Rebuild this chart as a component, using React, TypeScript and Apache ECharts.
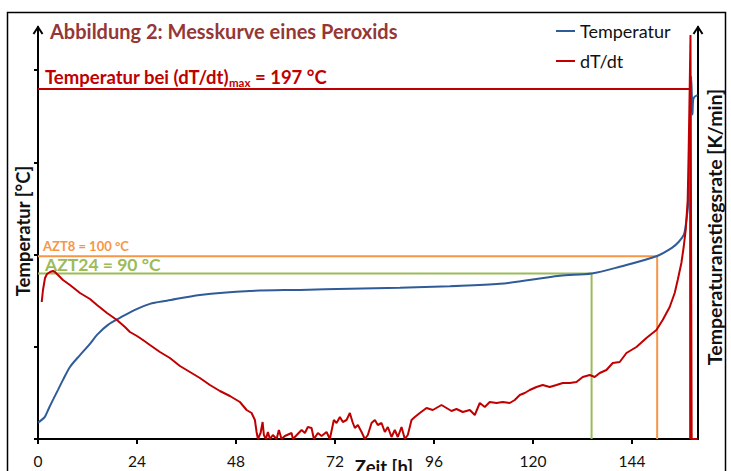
import React, { useEffect, useRef } from "react";
import * as echarts from "echarts";

// ---------- text ----------
const TITLE = "Abbildung 2: Messkurve eines Peroxids";
const SERIES_TEMP = "Temperatur";
const SERIES_RATE = "dT/dt";
const X_NAME = "Zeit [h]";
const Y_LEFT_NAME = "Temperatur [°C]";
const Y_RIGHT_NAME = "Temperaturanstiegsrate [K/min]";

// ---------- axes ----------
const xTicks = [0, 24, 48, 72, 96, 120, 144];
const tempTicks = [-6, 47.5, 101, 154.5, 208];

// ---------- temperature curve (h, °C) ----------
const tempTime = [
  0, 0.73, 1.7, 2.67, 3.63, 4.85, 6.06, 7.75, 10.18, 12.6, 14.3, 16.96, 19.87,
  23.5, 27.14, 31.26, 39.25, 51.37, 63.48, 75.6, 87.72, 99.84, 111.95, 126.49,
  134.2, 141.02, 149.9, 153.67, 155.36, 156.57, 157.05, 157.6, 157.86, 158.1,
  158.35, 158.54, 158.66, 158.83, 159.2, 159.9,
];
const tempValues = [
  3.5, 4.8, 7.0, 12.0, 16.7, 22.5, 28.3, 35.8, 42.7, 49.2, 54.4, 60.2, 64.3,
  68.9, 72.4, 74.2, 77.6, 79.9, 80.5, 81.1, 81.7, 82.6, 84.0, 88.7, 90.0, 93.9,
  100.0, 104.9, 108.4, 112.5, 118.3, 129.9, 150.2, 179.3, 204.2, 190.9, 182.2,
  190.9, 192.6, 193.5,
];

// ---------- dT/dt curve (h, K/min) ----------
const rateTime = [
  0.9, 1.21, 1.7, 2.18, 2.91, 3.63, 4.12, 4.85, 6.06, 7.75, 10.18, 12.6, 14.3,
  16.72, 19.14, 21.08, 22.29, 23.99, 25.44, 27.14, 29.56, 31.98, 34.41, 36.83,
  39.25, 41.68, 44.1, 46.52, 48.95, 50.57, 51.78, 52.58, 52.99, 53.31, 53.96,
  54.45, 54.76, 55.25, 55.73, 56.22, 56.94, 57.84, 58.4, 59.05, 59.85, 61.47,
  61.79, 63.9, 64.7, 65.42, 66.32, 66.88, 67.85, 68.74, 69.95, 70.75, 71.72,
  72.38, 73.18, 73.9, 74.8, 75.6, 76.25, 76.81, 77.54, 78.44, 79.23, 79.96,
  80.86, 81.66, 82.38, 83.28, 84.08, 84.81, 85.7, 86.5, 87.23, 88.13, 88.93,
  89.65, 90.55, 91.35, 92.56, 94.19, 95.71, 97.82, 99.03, 100.24, 101.45,
  102.98, 104.68, 105.89, 107.1, 108.31, 109.52, 111.15, 112.67, 114.37,
  115.58, 116.79, 118.0, 119.21, 120.84, 122.36, 124.06, 125.68, 127.21,
  128.91, 130.53, 132.06, 133.75, 134.96, 136.18, 137.8, 139.33, 141.02,
  142.65, 145.07, 147.49, 149.92, 151.44, 153.14, 154.35, 155.08, 155.97,
  156.53, 157.02, 157.5, 157.74, 157.98, 158.18, 158.35, 158.47, 159.9,
];
const rateValues = [
  1.37, 1.49, 1.61, 1.65, 1.67, 1.68, 1.67, 1.64, 1.59, 1.54, 1.46, 1.4, 1.34,
  1.26, 1.19, 1.12, 1.07, 1.03, 0.99, 0.94, 0.87, 0.81, 0.73, 0.67, 0.61, 0.54,
  0.48, 0.43, 0.37, 0.29, 0.26, 0.19, 0.07, 0.0, 0.06, 0.17, 0.04, 0.0, 0.07,
  0.0, 0.04, 0.0, 0.09, 0.0, 0.03, 0.06, 0.0, 0.09, 0.06, 0.12, 0.11, 0.0,
  0.06, 0.03, 0.07, 0.0, 0.19, 0.16, 0.22, 0.17, 0.19, 0.26, 0.17, 0.11, 0.14,
  0.07, 0.0, 0.04, 0.16, 0.19, 0.14, 0.16, 0.07, 0.12, 0.02, 0.09, 0.02, 0.12,
  0.0, 0.04, 0.19, 0.22, 0.26, 0.31, 0.29, 0.34, 0.31, 0.28, 0.3, 0.27, 0.29,
  0.24, 0.36, 0.32, 0.37, 0.36, 0.37, 0.36, 0.39, 0.44, 0.46, 0.49, 0.52,
  0.54, 0.52, 0.54, 0.56, 0.56, 0.57, 0.62, 0.64, 0.62, 0.66, 0.69, 0.76,
  0.77, 0.86, 0.92, 1.01, 1.09, 1.19, 1.32, 1.46, 1.59, 1.76, 1.92, 2.09,
  2.39, 2.89, 3.49, 4.04, 1.64, 0.0, 0.0,
];

// ---------- marker values ----------
const aztLabels = ["AZT24 = 90 °C", "AZT8 = 100 °C"];
const azt24 = { time: 134.2, temp: 90 };
const azt8 = { time: 150.1, temp: 100 };
const peak = { time: 158.1, temp: 197 };
const TEMP_MIN = -6;
const TEMP_MAX = 233;
const RATE_MAX = 4.12;
const X_MAX = 160;

const FONT = "Lato";
const BLUE = "#2F5B98";
const RED = "#C00000";
const GREEN = "#9BBB59";
const ORANGE = "#F79646";
const DARKRED = "#953735";

const zip = (a: number[], b: number[]) => a.map((v, i) => [v, b[i]]);
const marker = (m: { time: number; temp: number }) => [
  [0, m.temp],
  [m.time, m.temp],
  [m.time, TEMP_MIN],
];

export default function App() {
  const ref = useRef<HTMLDivElement>(null);

  useEffect(() => {
    if (!ref.current) return;
    const chart = echarts.init(ref.current, null, { renderer: "svg" });

    const markerSeries = (name: string, m: any, color: string) => ({
      name,
      type: "line",
      yAxisIndex: 0,
      data: marker(m),
      symbol: "none",
      silent: true,
      lineStyle: { color, width: 2 },
      z: 3,
    });

    chart.setOption({
      animation: false,
      backgroundColor: "#ffffff",
      textStyle: { fontFamily: FONT },
      grid: { left: 38, right: 33, top: 27, bottom: 32, containLabel: false },
      legend: {
        data: [
          { name: SERIES_TEMP, icon: "rect" },
          { name: SERIES_RATE, icon: "rect" },
        ],
        orient: "vertical",
        left: 551,
        top: 17,
        itemWidth: 19,
        itemHeight: 2,
        itemGap: 12,
        textStyle: { fontFamily: FONT, fontSize: 18, color: "#111" },
      },
      xAxis: {
        type: "value",
        min: 0,
        max: X_MAX,
        interval: 24,
        axisLine: { show: true, onZero: false, lineStyle: { color: "#000", width: 2 } },
        axisTick: {
          show: true,
          length: 5,
          customValues: xTicks,
          lineStyle: { color: "#000", width: 2 },
        },
        axisLabel: {
          customValues: xTicks,
          margin: 14,
          fontSize: 15.5,
          fontFamily: FONT,
          color: "#111",
        },
        splitLine: { show: false },
      },
      yAxis: [
        {
          type: "value",
          min: TEMP_MIN,
          max: TEMP_MAX,
          position: "left",
          axisLine: { show: true, onZero: false, lineStyle: { color: "#000", width: 2 } },
          axisTick: {
            show: true,
            length: 4,
            customValues: tempTicks,
            lineStyle: { color: "#000", width: 2 },
          },
          axisLabel: { show: false },
          splitLine: { show: false },
        },
        {
          type: "value",
          min: 0,
          max: RATE_MAX,
          position: "right",
          axisLine: { show: true, onZero: false, lineStyle: { color: "#000", width: 2 } },
          axisTick: { show: false },
          axisLabel: { show: false },
          splitLine: { show: false },
        },
      ],
      series: [
        markerSeries("azt24", azt24, GREEN),
        markerSeries("azt8", azt8, ORANGE),
        markerSeries("peak", peak, RED),
        {
          name: SERIES_TEMP,
          type: "line",
          yAxisIndex: 0,
          data: zip(tempTime, tempValues),
          symbol: "none",
          smooth: 0.3,
          lineStyle: { color: BLUE, width: 2 },
          itemStyle: { color: BLUE },
          z: 4,
        },
        {
          name: SERIES_RATE,
          type: "line",
          yAxisIndex: 1,
          data: zip(rateTime, rateValues),
          symbol: "none",
          lineStyle: { color: RED, width: 2 },
          itemStyle: { color: RED },
          z: 5,
        },
      ],
      graphic: [
        {
          type: "rect",
          shape: { x: 7.5, y: 12.5, width: 718, height: 480 },
          style: { fill: "none", stroke: "#000", lineWidth: 1.5 },
          silent: true,
        },
        {
          type: "polyline",
          shape: { points: [[33.5, 34], [38, 27], [42.5, 34]] },
          style: { fill: "none", stroke: "#000", lineWidth: 2 },
          silent: true,
        },
        {
          type: "polyline",
          shape: { points: [[693.5, 34], [698, 27], [702.5, 34]] },
          style: { fill: "none", stroke: "#000", lineWidth: 2 },
          silent: true,
        },
        {
          type: "text",
          x: 50,
          y: 31,
          style: {
            text: TITLE,
            fontFamily: FONT,
            fontWeight: "bold",
            fontSize: 20,
            fill: DARKRED,
            textVerticalAlign: "middle",
          },
        },
        {
          type: "text",
          x: 45,
          y: 77,
          style: {
            text: "{a|Temperatur bei (dT/dt)}{b|max}{a| = 197 °C}",
            textVerticalAlign: "middle",
            rich: {
              a: { fontFamily: FONT, fontWeight: "bold", fontSize: 18.5, fill: RED, color: RED },
              b: {
                fontFamily: FONT,
                fontWeight: "bold",
                fontSize: 11.5,
                fill: RED,
                color: RED,
                padding: [10, 0, 0, 0],
              },
            },
          },
        },
        {
          type: "text",
          x: 43,
          y: 246,
          style: {
            text: aztLabels[1],
            fontFamily: FONT,
            fontWeight: "bold",
            fontSize: 13,
            fill: ORANGE,
            textVerticalAlign: "middle",
          },
        },
        {
          type: "text",
          x: 45,
          y: 264,
          style: {
            text: aztLabels[0],
            fontFamily: FONT,
            fontWeight: "bold",
            fontSize: 17.5,
            fill: GREEN,
            textVerticalAlign: "middle",
          },
        },
        {
          type: "text",
          x: 384,
          y: 467,
          style: {
            text: X_NAME,
            fontFamily: FONT,
            fontWeight: "bold",
            fontSize: 18.5,
            fill: "#111",
            textAlign: "center",
            textVerticalAlign: "middle",
          },
        },
        {
          type: "text",
          x: 23,
          y: 231,
          rotation: Math.PI / 2,
          style: {
            text: Y_LEFT_NAME,
            fontFamily: FONT,
            fontWeight: "bold",
            fontSize: 18.5,
            fill: "#111",
            textAlign: "center",
            textVerticalAlign: "middle",
          },
        },
        {
          type: "text",
          x: 714,
          y: 227,
          rotation: Math.PI / 2,
          style: {
            text: Y_RIGHT_NAME,
            fontFamily: FONT,
            fontWeight: "bold",
            fontSize: 19.5,
            fill: "#111",
            textAlign: "center",
            textVerticalAlign: "middle",
          },
        },
      ],
    });

    return () => chart.dispose();
  }, []);

  return (
    <div
      ref={ref}
      style={{ position: "fixed", left: 0, top: 0, width: 731, height: 471, background: "#fff" }}
    />
  );
}
